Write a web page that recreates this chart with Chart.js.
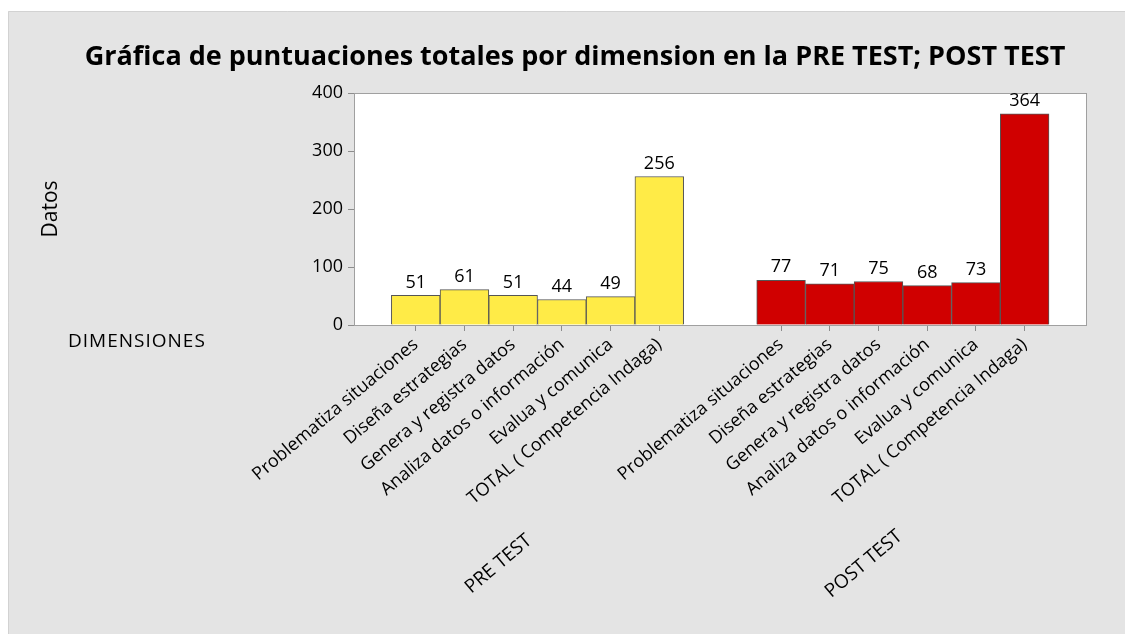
<!DOCTYPE html>
<html>
<head>
<meta charset="utf-8">
<script src="https://cdn.jsdelivr.net/npm/chart.js@4.4.1/dist/chart.umd.min.js"></script>
<style>
  html, body { margin: 0; padding: 0; background: #fff; }
  canvas { display: block; }
</style>
</head>
<body>
<canvas id="chart" width="1125" height="634"></canvas>
<script>
/* ── Data ─────────────────────────────────────────────────── */
const dimensiones = [
    'Problematiza situaciones',
    'Diseña estrategias',
    'Genera y registra datos',
    'Analiza datos o información',
    'Evalua y comunica',
    'TOTAL ( Competencia Indaga)'
];
const grupos = ['PRE TEST', 'POST TEST'];
const preTest = [51, 61, 51, 44, 49, 256];
const postTest = [77, 71, 75, 68, 73, 364];
const yTicks = [0, 100, 200, 300, 400];

/* ── Layout helpers ───────────────────────────────────────── */
const FONT = "'Open Sans', 'Noto Sans', sans-serif";
const GAP = 1.5; // empty slots between the two groups
const xPos = (g, i) => g * (dimensiones.length + GAP) + i + 1;
const allPos = [];
grupos.forEach((_, g) => dimensiones.forEach((_, i) => allPos.push(xPos(g, i))));

const toPoints = (vals, g) => vals.map((v, i) => ({ x: xPos(g, i), y: v }));

/* ── Decorations plugin ───────────────────────────────────── */
const decor = {
    id: 'decor',
    beforeDraw(chart) {
        const { ctx, chartArea: a } = chart;
        ctx.save();
        ctx.fillStyle = '#ffffff';
        ctx.fillRect(0, 0, chart.width, chart.height);
        ctx.fillStyle = '#e4e4e4';
        ctx.fillRect(8, 11, chart.width - 8, chart.height - 11);
        ctx.strokeStyle = '#d2d2d2';
        ctx.lineWidth = 1;
        ctx.beginPath();
        ctx.moveTo(8.5, chart.height); ctx.lineTo(8.5, 11.5); ctx.lineTo(chart.width, 11.5);
        ctx.stroke();
        ctx.fillStyle = '#ffffff';
        ctx.fillRect(a.left, a.top, a.right - a.left, a.bottom - a.top);
        ctx.restore();
    },
    afterDatasetsDraw(chart) {
        const { ctx, chartArea: a, scales } = chart;
        ctx.save();
        ctx.strokeStyle = '#a0a0a0';
        ctx.lineWidth = 1;
        ctx.strokeRect(a.left + 0.5, a.top + 0.5, a.right - a.left - 1, a.bottom - a.top);

        // value labels
        ctx.fillStyle = '#000';
        ctx.font = `18px ${FONT}`;
        ctx.textAlign = 'center';
        ctx.textBaseline = 'bottom';
        chart.data.datasets.forEach((ds, di) => {
            chart.getDatasetMeta(di).data.forEach((bar, i) => {
                ctx.fillText(String(ds.data[i].y), bar.x, bar.y - 4);
            });
        });

        // title
        ctx.font = `bold 27px ${FONT}`;
        ctx.textBaseline = 'middle';
        ctx.fillText('Gráfica de puntuaciones totales por dimension en la PRE TEST; POST TEST', 575, 57);

        // y axis title
        ctx.font = `21px ${FONT}`;
        ctx.save();
        ctx.translate(51, 209);
        ctx.rotate(-Math.PI / 2);
        ctx.fillText('Datos', 0, 0);
        ctx.restore();

        // x axis title
        ctx.font = `19px ${FONT}`;
        ctx.letterSpacing = '1px';
        ctx.textAlign = 'left';
        ctx.fillText('DIMENSIONES', 68, 342);
        ctx.letterSpacing = '0px';

        // group labels
        ctx.font = `19px ${FONT}`;
        ctx.textAlign = 'center';
        grupos.forEach((name, g) => {
            const mid = (scales.x.getPixelForValue(xPos(g, 0)) +
                         scales.x.getPixelForValue(xPos(g, dimensiones.length - 1))) / 2;
            ctx.save();
            ctx.translate(mid - 39, 564);
            ctx.rotate(-40 * Math.PI / 180);
            ctx.fillText(name, 0, 0);
            ctx.restore();
        });
        ctx.restore();
    }
};

/* ── Chart ────────────────────────────────────────────────── */
new Chart(document.getElementById('chart'), {
    type: 'bar',
    data: {
        datasets: [
            { label: grupos[0], data: toPoints(preTest, 0), backgroundColor: '#ffeb47', borderColor: '#555', borderWidth: 1 },
            { label: grupos[1], data: toPoints(postTest, 1), backgroundColor: '#d00000', borderColor: '#555', borderWidth: 1 },
        ],
    },
    options: {
        responsive: false,
        animation: false,
        devicePixelRatio: 1,
        layout: { padding: { left: 0, top: 93, right: 38, bottom: 0 } },
        datasets: { bar: { grouped: false, barPercentage: 1, categoryPercentage: 1 } },
        plugins: { legend: { display: false }, tooltip: { enabled: false }, title: { display: false } },
        scales: {
            x: {
                type: 'linear',
                offset: false,
                min: 1 - 1.267,
                max: xPos(1, dimensiones.length - 1) + 1.28,
                afterBuildTicks: s => { s.ticks = allPos.map(v => ({ value: v })); },
                afterFit: s => { s.height = 634 - 325; },
                grid: { offset: false, drawOnChartArea: false, drawTicks: true, tickLength: 6, color: '#8c8c8c' },
                border: { display: false },
                ticks: {
                    autoSkip: false, minRotation: 40, maxRotation: 40, padding: 3,
                    color: '#000', font: { family: FONT, size: 18 },
                    callback: v => dimensiones[allPos.indexOf(v) % dimensiones.length] ?? '',
                },
            },
            y: {
                min: 0, max: 400,
                afterBuildTicks: s => { s.ticks = yTicks.map(v => ({ value: v })); },
                afterFit: s => { s.width = 354; },
                grid: { drawOnChartArea: false, drawTicks: true, tickLength: 6, color: '#8c8c8c' },
                border: { display: false },
                ticks: { padding: 5, color: '#000', font: { family: FONT, size: 18 } },
            },
        },
    },
    plugins: [decor],
});
</script>
</body>
</html>
